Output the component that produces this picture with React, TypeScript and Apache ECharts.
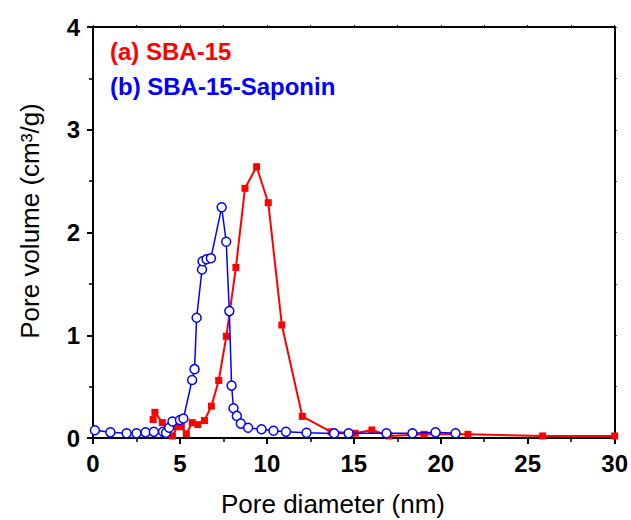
import React, { useEffect, useRef } from "react";
import * as echarts from "echarts";

const redX = [3.46, 3.56, 3.99, 4.57, 4.85, 5.08, 5.37, 5.71, 6.03, 6.41, 6.81, 7.23, 7.67, 8.22, 8.74, 9.41, 10.08, 10.86, 12.04, 13.69, 15.08, 16.04, 17.03, 19.04, 21.56, 25.86, 30];
const redY = [0.18, 0.25, 0.15, 0.02, 0.11, 0.11, 0.04, 0.15, 0.13, 0.17, 0.31, 0.56, 0.99, 1.66, 2.43, 2.64, 2.29, 1.10, 0.21, 0.06, 0.046, 0.078, 0.02, 0.036, 0.036, 0.02, 0.02];

const blueX = [0.11, 1.0, 1.93, 2.5, 3.02, 3.5, 4.03, 4.2, 4.38, 4.57, 5.0, 5.2, 5.7, 5.84, 5.96, 6.27, 6.3, 6.53, 6.78, 7.4, 7.66, 7.84, 7.97, 8.08, 8.27, 8.5, 8.92, 9.69, 10.38, 11.1, 12.28, 13.87, 14.7, 16.88, 18.37, 19.7, 20.85];
const blueY = [0.075, 0.055, 0.046, 0.046, 0.055, 0.06, 0.06, 0.05, 0.10, 0.16, 0.175, 0.19, 0.565, 0.67, 1.17, 1.64, 1.72, 1.74, 1.75, 2.245, 1.91, 1.235, 0.51, 0.29, 0.215, 0.14, 0.10, 0.085, 0.07, 0.06, 0.05, 0.045, 0.046, 0.046, 0.046, 0.055, 0.046];

const seriesNames = ["(a) SBA-15", "(b) SBA-15-Saponin"];
const xTitle = "Pore diameter (nm)";
const yTitle = "Pore volume (cm³/g)";

const FONT = "'Liberation Sans', Arial, sans-serif";

export default function App() {
  const ref = useRef<HTMLDivElement>(null);
  useEffect(() => {
    if (!ref.current) return;
    const chart = echarts.init(ref.current, undefined, { renderer: "svg" });
    const axisCommon = {
      axisLine: { show: true, onZero: false, lineStyle: { color: "#000", width: 2 } },
      splitLine: { show: false },
    };
    chart.setOption({
      animation: false,
      backgroundColor: "#fff",
      grid: { left: 93, top: 27, right: 14, bottom: 82, containLabel: false },
      xAxis: [
        {
          type: "value",
          min: 0,
          max: 30,
          interval: 5,
          ...axisCommon,
          axisTick: { show: true, inside: false, length: 6, lineStyle: { width: 2, color: "#000" } },
          minorTick: { show: true, splitNumber: 2, length: 4, lineStyle: { width: 1.5, color: "#000" } },
          axisLabel: { fontSize: 24, fontWeight: "bold", color: "#000", fontFamily: FONT, margin: 13 },
        },
        {
          type: "value",
          position: "top",
          min: 0,
          max: 30,
          interval: 5,
          ...axisCommon,
          axisTick: { show: true, inside: false, length: 2, lineStyle: { width: 1, color: "#000" } },
          minorTick: { show: true, splitNumber: 2, length: 2, lineStyle: { width: 1, color: "#000" } },
          axisLabel: { show: false },
        },
      ],
      yAxis: [
        {
          type: "value",
          min: 0,
          max: 4,
          interval: 1,
          ...axisCommon,
          axisTick: { show: true, inside: false, length: 6, lineStyle: { width: 2, color: "#000" } },
          minorTick: { show: true, splitNumber: 2, length: 4, lineStyle: { width: 1.5, color: "#000" } },
          axisLabel: { fontSize: 24, fontWeight: "bold", color: "#000", fontFamily: FONT, margin: 13 },
        },
        {
          type: "value",
          position: "right",
          min: 0,
          max: 4,
          interval: 1,
          ...axisCommon,
          axisTick: { show: true, inside: false, length: 2, lineStyle: { width: 1, color: "#000" } },
          minorTick: { show: true, splitNumber: 2, length: 2, lineStyle: { width: 1, color: "#000" } },
          axisLabel: { show: false },
        },
      ],
      series: [
        {
          name: seriesNames[0],
          type: "line",
          xAxisIndex: 0,
          yAxisIndex: 0,
          data: redX.map((x, i) => [x, redY[i]]),
          symbol: "rect",
          symbolSize: 7,
          showAllSymbol: true,
          lineStyle: { color: "#ff0000", width: 2 },
          itemStyle: { color: "#ff0000" },
          z: 2,
        },
        {
          name: seriesNames[1],
          type: "line",
          xAxisIndex: 0,
          yAxisIndex: 0,
          data: blueX.map((x, i) => [x, blueY[i]]),
          symbol: "circle",
          symbolSize: 9,
          showAllSymbol: true,
          lineStyle: { color: "#0000ff", width: 1.5 },
          itemStyle: { color: "#ffffff", borderColor: "#0000ff", borderWidth: 1.5 },
          z: 3,
        },
      ],
      graphic: [
        {
          type: "text",
          left: 110,
          top: 39,
          style: { text: seriesNames[0], fill: "#ff0000", font: `bold 24px ${FONT}` },
        },
        {
          type: "text",
          left: 110,
          top: 74,
          style: { text: seriesNames[1], fill: "#0000ff", font: `bold 24px ${FONT}` },
        },
        {
          type: "text",
          x: 333,
          y: 504,
          style: { text: xTitle, fill: "#000", font: `26px ${FONT}`, align: "center", verticalAlign: "middle" },
        },
        {
          type: "text",
          x: 30,
          y: 221,
          rotation: Math.PI / 2,
          style: { text: yTitle, fill: "#000", font: `26px ${FONT}`, align: "center", verticalAlign: "middle" },
        },
      ],
    });
    return () => chart.dispose();
  }, []);
  return <div ref={ref} style={{ width: 631, height: 520, position: "absolute", left: 0, top: 0 }} />;
}
